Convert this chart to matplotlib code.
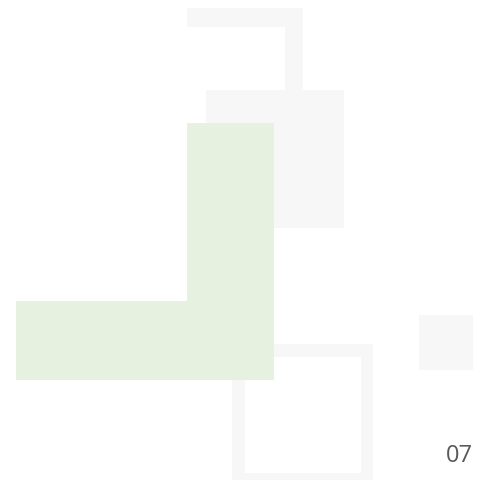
import matplotlib
matplotlib.use("Agg")
import matplotlib.pyplot as plt
from matplotlib.patches import Rectangle

# Shapes in pixel units: (x, y_top, width, height)
gray_fill_rects = [
    (187, 9, 116, 19),    # top bar of hook
    (285, 9, 18, 82),     # vertical of hook
    (206, 91, 138, 138),  # middle square
    (419, 316, 54, 55),   # small square right
]
green_rects = [
    (187, 124, 87, 257),  # vertical part of L
    (16, 302, 258, 79),   # horizontal part of L
]
outline_rects = [
    (232, 345, 141, 136, 13),  # x, y, w, h, thickness
]
page_label = "07"

W, H = 484, 481
fig = plt.figure(figsize=(W / 100, H / 100), dpi=100)
ax = fig.add_axes([0, 0, 1, 1])
ax.set_xlim(0, W)
ax.set_ylim(H, 0)
ax.axis("off")

gray = "#f7f7f7"
green = "#e6f2df"

for (x, y, w, h) in gray_fill_rects:
    ax.add_patch(Rectangle((x, y), w, h, facecolor=gray, edgecolor="none", zorder=1))

for (x, y, w, h, t) in outline_rects:
    ax.add_patch(Rectangle((x, y), w, t, facecolor=gray, edgecolor="none", zorder=1))
    ax.add_patch(Rectangle((x, y + h - t + 6), w, t, facecolor=gray, edgecolor="none", zorder=1))
    ax.add_patch(Rectangle((x, y), t, h, facecolor=gray, edgecolor="none", zorder=1))
    ax.add_patch(Rectangle((x + w - 12, y), 12, h, facecolor=gray, edgecolor="none", zorder=1))

for (x, y, w, h) in green_rects:
    ax.add_patch(Rectangle((x, y), w, h, facecolor=green, edgecolor="none", zorder=2))

ax.text(459, 456, page_label, ha="center", va="center", fontsize=17,
        family="Open Sans", color="#595959", zorder=3)

fig.savefig("out.png", dpi=100)
